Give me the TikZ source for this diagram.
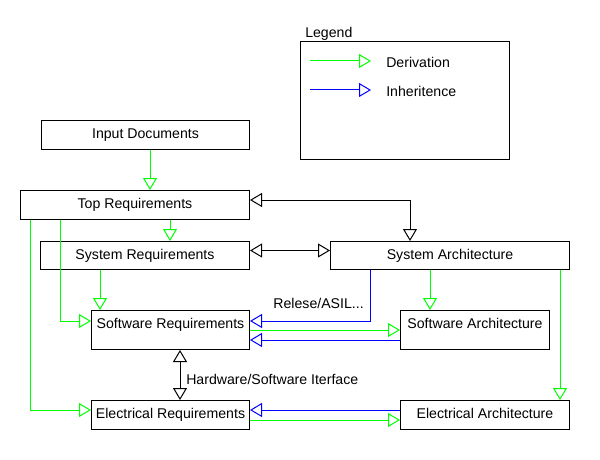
\documentclass[tikz,border=0pt]{standalone}
\usepackage{fontspec}
\setmainfont{Liberation Sans}
\usetikzlibrary{arrows.meta}
\definecolor{dgreen}{RGB}{0,255,0}
\definecolor{iblue}{RGB}{0,0,255}
\begin{document}
\begin{tikzpicture}[x=0.75pt,y=-0.75pt,
 font=\fontsize{10.6}{12}\selectfont,
 bx/.style={draw, line width=0.75pt, inner xsep=2pt, inner ysep=0pt, anchor=north west, text height=13.6pt},
 tipend/.style={-{Triangle[open,length=9pt,width=10.5pt]}},
 bothend/.style={{Triangle[open,length=9pt,width=10.5pt]}-{Triangle[open,length=9pt,width=10.5pt]}},
 der/.style={draw=dgreen, line width=0.75pt, tipend},
 inh/.style={draw=iblue, line width=0.75pt, tipend},
 rel/.style={draw=black, line width=0.75pt, bothend},
 lbl/.style={inner sep=0pt}]
\useasboundingbox (0,0) rectangle (600,460);

% boxes
\node[bx, minimum width=156pt, text depth=8.15pt] (in) at (41,120) {Input Documents};
\node[bx, minimum width=171.75pt, text depth=8.15pt] (top) at (20,190) {Top Requirements};
\node[bx, minimum width=156.75pt, text depth=7.4pt] (sreq) at (40,241) {System Requirements};
\node[bx, minimum width=179.25pt, text depth=7.4pt] (sarch) at (330,241) {System Architecture};
\node[bx, minimum width=118.5pt, text depth=15.65pt] (swreq) at (91,310) {Software Requirements};
\node[bx, minimum width=111.75pt, text depth=15.65pt] (swarch) at (400,310) {Software Architecture};
\node[bx, minimum width=118.5pt, text depth=8.15pt] (elreq) at (91,400) {Electrical Requirements};
\node[bx, minimum width=126.75pt, text depth=8.15pt] (elarch) at (400,400) {Electrical Architecture};

% legend
\node[draw, line width=0.75pt, anchor=north west, inner sep=0pt, minimum width=156.75pt, minimum height=88.5pt] (legend) at (300,41) {};
\node[lbl, anchor=base west] (legtitle) at (305,38) {Legend};
\coordinate (d1) at (310,61);
\coordinate (d2) at (371,61);
\coordinate (i1) at (310,90);
\coordinate (i2) at (371,90);
\draw[der] (d1) -- (d2);
\draw[inh] (i1) -- (i2);
\node[lbl, anchor=base west] (dtxt) at (386,67.5) {Derivation};
\node[lbl, anchor=base west] (itxt) at (386,97) {Inheritence};

% derivation connectors
\draw[der] (in.south -| 150,0) -- (top.north -| 150,0);
\draw[der] (top.south -| 170,0) -- (sreq.north -| 170,0);
\draw[der] (top.south -| 60,0) |- (swreq.west |- 0,321);
\draw[der] (top.south -| 30,0) |- (elreq.west |- 0,410);
\draw[der] (sreq.south -| 100,0) -- (swreq.north -| 100,0);
\draw[der] (sarch.south -| 430,0) -- (swarch.north -| 430,0);
\draw[der] (swreq.east |- 0,330) -- (swarch.west |- 0,330);
\draw[der] (sarch.south -| 560,0) -- (elarch.north -| 560,0);
\draw[der] (elreq.east |- 0,420) -- (elarch.west |- 0,420);

% inheritance connectors
\draw[inh] (sarch.south -| 370,0) |- (swreq.east |- 0,321);
\draw[inh] (swarch.west |- 0,340) -- (swreq.east |- 0,340);
\draw[inh] (elarch.west |- 0,410) -- (elreq.east |- 0,410);

% relations
\draw[rel] (top.east |- 0,200) -| (sarch.north -| 410,0);
\draw[rel] (sreq.east |- 0,250.5) -- (sarch.west |- 0,250.5);
\draw[rel] (swreq.south -| 180,0) -- (elreq.north -| 180,0);

% labels
\node[lbl, anchor=base east] (asil) at (364,308.5) {Relese/ASIL...};
\node[lbl, anchor=base west] (hwsw) at (186,384.5) {Hardware/Software Iterface};
\end{tikzpicture}
\end{document}
